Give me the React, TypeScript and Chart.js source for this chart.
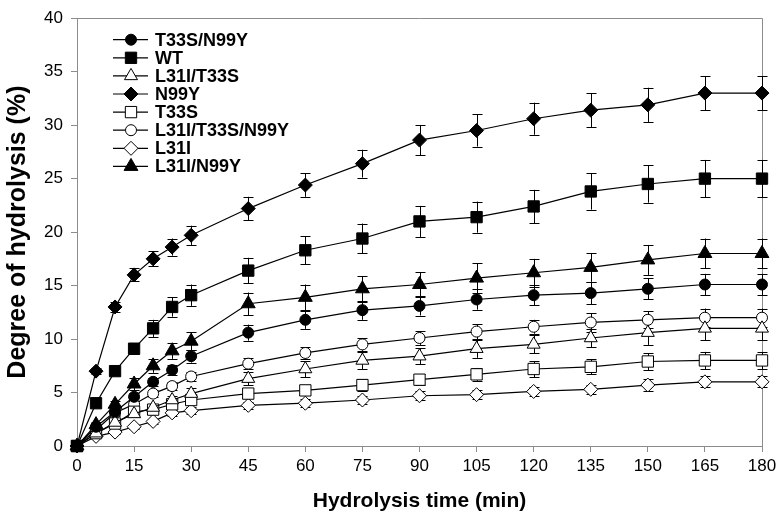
import React, { useEffect, useRef } from "react";
import { Chart, registerables } from "chart.js";

Chart.register(...registerables);

const times = [0, 5, 10, 15, 20, 25, 30, 45, 60, 75, 90, 105, 120, 135, 150, 165, 180];
const xTicks = [0, 15, 30, 45, 60, 75, 90, 105, 120, 135, 150, 165, 180];

const labels = ["T33S/N99Y", "WT", "L31I/T33S", "N99Y", "T33S", "L31I/T33S/N99Y", "L31I", "L31I/N99Y"];

const t33sN99y = [0, 1.8, 3.2, 4.6, 6.0, 7.1, 8.4, 10.6, 11.8, 12.7, 13.1, 13.7, 14.1, 14.3, 14.7, 15.1, 15.1];
const t33sN99yErr = [0, 0.2, 0.3, 0.35, 0.4, 0.5, 0.6, 0.75, 0.85, 0.9, 0.9, 0.95, 0.95, 1.05, 1.0, 1.0, 1.0];

const wt = [0, 4.0, 7.0, 9.1, 11.0, 13.0, 14.1, 16.4, 18.3, 19.4, 21.0, 21.4, 22.4, 23.8, 24.5, 25.0, 25.0];
const wtErr = [0, 0.2, 0.3, 0.5, 0.8, 0.9, 1.0, 1.2, 1.3, 1.4, 1.45, 1.45, 1.55, 1.7, 1.75, 1.75, 1.75];

const l31iT33s = [0, 1.2, 2.2, 3.0, 3.6, 4.3, 4.9, 6.3, 7.2, 8.0, 8.4, 9.1, 9.5, 10.1, 10.6, 11.0, 11.0];
const l31iT33sErr = [0, 0.2, 0.3, 0.3, 0.35, 0.4, 0.5, 0.6, 0.75, 0.8, 0.75, 0.85, 0.85, 0.85, 1.15, 1.1, 1.1];

const n99y = [0, 7.0, 13.0, 16.0, 17.5, 18.6, 19.7, 22.2, 24.4, 26.4, 28.6, 29.5, 30.6, 31.4, 31.9, 33.0, 33.0];
const n99yErr = [0, 0.3, 0.5, 0.6, 0.7, 0.8, 0.9, 1.1, 1.1, 1.3, 1.4, 1.5, 1.5, 1.6, 1.6, 1.6, 1.6];

const t33s = [0, 1.2, 2.1, 3.2, 3.4, 3.9, 4.3, 4.9, 5.2, 5.7, 6.2, 6.7, 7.2, 7.4, 7.9, 8.0, 8.0];
const t33sErr = [0, 0.15, 0.2, 0.3, 0.3, 0.35, 0.4, 0.4, 0.4, 0.55, 0.5, 0.6, 0.75, 0.7, 0.8, 0.8, 0.8];

const l31iT33sN99y = [0, 1.5, 3.1, 3.9, 4.9, 5.6, 6.5, 7.7, 8.7, 9.5, 10.1, 10.7, 11.15, 11.55, 11.8, 12.0, 12.0];
const l31iT33sN99yErr = [0, 0.2, 0.3, 0.3, 0.35, 0.4, 0.45, 0.5, 0.55, 0.6, 0.65, 0.7, 0.65, 0.85, 0.8, 0.85, 0.85];

const l31i = [0, 0.9, 1.3, 1.8, 2.3, 3.1, 3.3, 3.8, 4.0, 4.3, 4.7, 4.8, 5.1, 5.3, 5.7, 6.0, 6.0];
const l31iErr = [0, 0.1, 0.15, 0.2, 0.2, 0.25, 0.3, 0.3, 0.35, 0.35, 0.4, 0.4, 0.45, 0.45, 0.55, 0.5, 0.5];

const l31iN99y = [0, 2.0, 3.9, 5.8, 7.5, 8.9, 9.8, 13.3, 13.9, 14.7, 15.1, 15.7, 16.2, 16.7, 17.4, 18.0, 18.0];
const l31iN99yErr = [0, 0.2, 0.3, 0.6, 0.65, 0.75, 0.85, 1.05, 1.2, 1.2, 1.15, 1.4, 1.3, 1.35, 1.4, 1.4, 1.4];

const seriesValues = [t33sN99y, wt, l31iT33s, n99y, t33s, l31iT33sN99y, l31i, l31iN99y];
const seriesErrors = [t33sN99yErr, wtErr, l31iT33sErr, n99yErr, t33sErr, l31iT33sN99yErr, l31iErr, l31iN99yErr];
const seriesStyles = ["circle", "rect", "triangle", "rectRot", "rect", "circle", "rectRot", "triangle"];
const seriesFilled = [true, true, false, true, false, false, false, true];
const seriesRadius = [5.5, 8, 7.5, 7, 8, 5.5, 7, 8];

const FONT = '"Liberation Sans", Arial, Helvetica, sans-serif';
const AXIS_GRAY = "#8c8c8c";

function drawMarker(ctx: CanvasRenderingContext2D, style: string, r: number, x: number, y: number) {
  ctx.beginPath();
  if (style === "circle") {
    ctx.arc(x, y, r, 0, Math.PI * 2);
  } else if (style === "rect") {
    const s = Math.SQRT1_2 * r;
    ctx.rect(x - s, y - s, 2 * s, 2 * s);
  } else if (style === "rectRot") {
    ctx.moveTo(x - r, y);
    ctx.lineTo(x, y - r);
    ctx.lineTo(x + r, y);
    ctx.lineTo(x, y + r);
  } else if (style === "triangle") {
    const a0 = 0;
    const a1 = (2 * Math.PI) / 3;
    const a2 = (4 * Math.PI) / 3;
    ctx.moveTo(x + Math.sin(a0) * r, y - Math.cos(a0) * r);
    ctx.lineTo(x + Math.sin(a1) * r, y - Math.cos(a1) * r);
    ctx.lineTo(x + Math.sin(a2) * r, y - Math.cos(a2) * r);
  }
  ctx.closePath();
  ctx.fill();
  ctx.stroke();
}

const errorBarPlugin = {
  id: "errorBars",
  beforeDatasetsDraw(chart: any) {
    const { ctx } = chart;
    const xs = chart.scales.x;
    const ys = chart.scales.y;
    ctx.save();
    ctx.strokeStyle = "#000";
    ctx.lineWidth = 1;
    seriesValues.forEach((vals, i) => {
      const errs = seriesErrors[i];
      vals.forEach((v, j) => {
        const e = errs[j];
        if (!e) return;
        const x = Math.round(xs.getPixelForValue(times[j])) + 0.5;
        const yt = ys.getPixelForValue(v + e);
        const yb = ys.getPixelForValue(v - e);
        ctx.beginPath();
        ctx.moveTo(x, yt);
        ctx.lineTo(x, yb);
        ctx.moveTo(x - 5, Math.round(yt) + 0.5);
        ctx.lineTo(x + 5, Math.round(yt) + 0.5);
        ctx.moveTo(x - 5, Math.round(yb) + 0.5);
        ctx.lineTo(x + 5, Math.round(yb) + 0.5);
        ctx.stroke();
      });
    });
    ctx.restore();
  },
};

const framePlugin = {
  id: "frame",
  beforeDatasetsDraw(chart: any) {
    const { ctx, chartArea } = chart;
    ctx.save();
    ctx.strokeStyle = AXIS_GRAY;
    ctx.lineWidth = 1;
    ctx.beginPath();
    ctx.moveTo(Math.round(chartArea.left), Math.round(chartArea.top) + 0.5);
    ctx.lineTo(Math.round(chartArea.right) + 0.5, Math.round(chartArea.top) + 0.5);
    ctx.lineTo(Math.round(chartArea.right) + 0.5, Math.round(chartArea.bottom));
    ctx.stroke();
    ctx.restore();
  },
};

const legendPlugin = {
  id: "insideLegend",
  afterDraw(chart: any) {
    const { ctx, chartArea } = chart;
    const x0 = chartArea.left + 36;
    ctx.save();
    labels.forEach((lab, i) => {
      const y = chartArea.top + 21.5 + i * 18.1;
      ctx.strokeStyle = "#000";
      ctx.lineWidth = 1.2;
      ctx.beginPath();
      ctx.moveTo(x0, y);
      ctx.lineTo(x0 + 35, y);
      ctx.stroke();
      ctx.lineWidth = 1;
      ctx.fillStyle = seriesFilled[i] ? "#000" : "#fff";
      drawMarker(ctx, seriesStyles[i], seriesRadius[i], x0 + 18, y);
      ctx.fillStyle = "#000";
      ctx.font = `bold 18px ${FONT}`;
      ctx.textBaseline = "middle";
      ctx.textAlign = "left";
      ctx.fillText(lab, x0 + 42, y + 1);
    });
    ctx.restore();
  },
};

export default function App() {
  const canvasRef = useRef<HTMLCanvasElement | null>(null);

  useEffect(() => {
    if (!canvasRef.current) return;
    const datasets = labels.map((lab, i) => ({
      label: lab,
      data: times.map((t, j) => ({ x: t, y: seriesValues[i][j] })),
      borderColor: "#000",
      borderWidth: 1.2,
      pointStyle: seriesStyles[i] as any,
      pointRadius: seriesRadius[i],
      pointHoverRadius: seriesRadius[i],
      pointBackgroundColor: seriesFilled[i] ? "#000" : "#fff",
      pointBorderColor: "#000",
      pointBorderWidth: 1,
      fill: false,
      tension: 0,
      clip: false,
    }));

    const chart = new Chart(canvasRef.current, {
      type: "line",
      data: { datasets },
      options: {
        animation: false,
        responsive: false,
        maintainAspectRatio: false,
        devicePixelRatio: 1,
        layout: { padding: { top: 12, right: 20, left: 0, bottom: 0 } },
        font: { family: FONT },
        plugins: {
          legend: { display: false },
          tooltip: { enabled: false },
        },
        scales: {
          x: {
            type: "linear",
            min: 0,
            max: 180,
            afterBuildTicks: (scale: any) => {
              scale.ticks = xTicks.map((v) => ({ value: v }));
            },
            afterFit: (scale: any) => {
              scale.height = 76;
            },
            ticks: {
              color: "#000",
              font: { family: FONT, size: 17 },
              padding: 4,
              maxRotation: 0,
              autoSkip: false,
            },
            grid: {
              display: true,
              drawOnChartArea: false,
              drawTicks: true,
              tickLength: 6,
              color: AXIS_GRAY,
            },
            border: { display: true, color: AXIS_GRAY, width: 1 },
            title: {
              display: true,
              text: "Hydrolysis time (min)",
              color: "#000",
              font: { family: FONT, size: 21, weight: "bold" },
              padding: { top: 0, bottom: 8 },
            },
          },
          y: {
            type: "linear",
            min: 0,
            max: 40,
            ticks: {
              stepSize: 5,
              color: "#000",
              font: { family: FONT, size: 17 },
              padding: 8,
            },
            afterFit: (scale: any) => {
              scale.width = 77;
            },
            grid: {
              display: true,
              drawOnChartArea: false,
              drawTicks: true,
              tickLength: 6,
              color: AXIS_GRAY,
            },
            border: { display: true, color: AXIS_GRAY, width: 1 },
            title: {
              display: true,
              text: "Degree of hydrolysis (%)",
              color: "#000",
              font: { family: FONT, size: 25, weight: "bold" },
              padding: { top: 3, bottom: 0 },
            },
          },
        },
      },
      plugins: [framePlugin, errorBarPlugin, legendPlugin],
    } as any);

    return () => {
      chart.destroy();
    };
  }, []);

  return (
    <div style={{ position: "fixed", left: 0, top: 0, width: 782, height: 522, background: "#fff" }}>
      <canvas ref={canvasRef} width={782} height={522} style={{ display: "block", width: 782, height: 522 }} />
    </div>
  );
}
